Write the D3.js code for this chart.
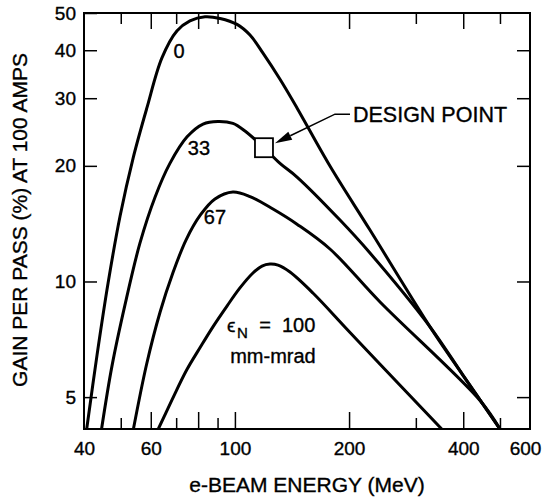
<!DOCTYPE html>
<html lang="en">
<head>
<meta charset="UTF-8">
<title>Gain per pass vs e-beam energy</title>
<script src="https://d3js.org/d3.v7.min.js"></script>
<style>
    body { margin: 0; background: #fff; }
    text { font-family: "Liberation Sans", Arial, Helvetica, sans-serif; fill: #000; stroke: #000; stroke-width: 0.35px; }
</style>
</head>
<body>
<svg width="544" height="498"></svg>
<script>
    // values: e-beam energy (MeV) and gain per pass (%)
    let energy0 = [40.66, 43.3, 46.3, 49.8, 53.9, 58.6, 64.2, 70.3, 76.1, 83.4, 91.4, 101.3, 109.6, 118.6, 131.5, 145.8, 178.1, 227.1, 327, 400, 500]
    let gain0   = [4.13, 6.44, 9.91, 14.81, 20.96, 28.3, 38.2, 44.9, 47.7, 48.9, 48.4, 46.7, 43.8, 39.3, 33.6, 28.3, 19.98, 13.61, 7.62, 5.69, 4.13]

    let energy33 = [44.5, 47.4, 51.3, 56.2, 61.6, 67.4, 74.8, 82.4, 90.2, 98.8, 106.3, 119.3, 131.5, 145.8, 189.3, 227.1, 327, 400, 500]
    let gain33   = [4.13, 6.02, 8.69, 12.6, 16.6, 20.3, 23.8, 25.7, 26.1, 25.8, 24.65, 22.3, 20.3, 18.7, 14.45, 11.86, 7.62, 5.69, 4.13]

    let energy67 = [54.0, 58.5, 63.5, 68.6, 74.3, 81.1, 88.6, 98.8, 109.6, 126.0, 145.8, 178.1, 241.4, 442.9, 500]
    let gain67   = [4.13, 6.09, 8.33, 10.52, 12.82, 14.9, 16.4, 17.1, 16.64, 15.44, 14.1, 12.15, 8.84, 4.9, 4.13]

    let energy100 = [62.8, 68.2, 74.6, 81.1, 87.5, 95.3, 103.1, 110.9, 117.9, 123.7, 129.9, 139.7, 160.6, 197.2, 241.4, 351]
    let gain100   = [4.13, 4.91, 5.88, 6.75, 7.62, 8.63, 9.62, 10.46, 10.97, 11.1, 11.03, 10.58, 9.33, 7.52, 6.09, 4.13]

    let designPoint = [119.3, 22.3]

    let xLongTicks = [60, 80, 100, 200, 400]
    let xShortTicks = [50, 70, 90, 300, 500]
    let xTickLabels = [40, 60, 100, 200, 400, 600]
    let yTickLabels = [5, 10, 20, 30, 40, 50]

    // curve labels placed in data coordinates
    let curveLabels = [
        {text: "0", e: 71.2, g: 39.8},
        {text: "33", e: 80.4, g: 22.3},
        {text: "67", e: 88.6, g: 14.7}
    ]

    let svg = d3.select("svg")
    let plotLeft = 84, plotRight = 530, plotTop = 13, plotBottom = 429

    let x = d3.scaleLog().domain([40, 600]).range([plotLeft, plotRight])
    let y = d3.scaleLog().domain([4.13, 50]).range([plotBottom, plotTop])

    svg.append("clipPath").attr("id", "plot")
        .append("rect")
        .attr("x", plotLeft).attr("y", plotTop)
        .attr("width", plotRight - plotLeft).attr("height", plotBottom - plotTop)

    function addAxis(axis, transform, fontSize) {
        let g = svg.append("g")
            .attr("transform", transform)
            .call(axis)
        g.select(".domain").remove()
        g.selectAll(".tick line").attr("stroke", "#000").attr("stroke-width", 1.5)
        g.selectAll("text")
            .attr("font-family", "Liberation Sans, Arial, sans-serif")
            .attr("font-size", fontSize)
            .attr("fill", "#000")
        return g
    }

    // bottom and top ticks (inward)
    addAxis(d3.axisBottom(x).tickValues(xLongTicks).tickSize(-17).tickFormat(""), `translate(0,${plotBottom})`, 19)
    addAxis(d3.axisBottom(x).tickValues(xShortTicks).tickSize(-11).tickFormat(""), `translate(0,${plotBottom})`, 19)
    addAxis(d3.axisTop(x).tickValues(xLongTicks).tickSize(-16).tickFormat(""), `translate(0,${plotTop})`, 19)
    addAxis(d3.axisTop(x).tickValues(xShortTicks).tickSize(-11).tickFormat(""), `translate(0,${plotTop})`, 19)
    let xLabels = addAxis(d3.axisBottom(x).tickValues(xTickLabels).tickSize(0).tickPadding(13).tickFormat(d3.format("d")), `translate(0,${plotBottom})`, 19)
    xLabels.selectAll("text").filter(d => d === 600).attr("dx", -5)

    // left and right ticks
    addAxis(d3.axisLeft(y).tickValues(yTickLabels).tickSize(-13).tickPadding(8).tickFormat(d3.format("d")), `translate(${plotLeft},0)`, 19)
    addAxis(d3.axisRight(y).tickValues(yTickLabels.slice(0, 5)).tickSize(-13).tickFormat(""), `translate(${plotRight},0)`, 19)

    // frame
    svg.append("rect")
        .attr("x", plotLeft).attr("y", plotTop)
        .attr("width", plotRight - plotLeft).attr("height", plotBottom - plotTop)
        .attr("fill", "none")
        .attr("stroke", "#000")
        .attr("stroke-width", 2)

    let line = d3.line()
        .x(d => x(d[0]))
        .y(d => y(d[1]))
        .curve(d3.curveCatmullRom.alpha(0.5))

    let curves = [
        d3.zip(energy0, gain0),
        d3.zip(energy33, gain33),
        d3.zip(energy67, gain67),
        d3.zip(energy100, gain100)
    ]

    svg.append("g")
        .attr("clip-path", "url(#plot)")
        .selectAll("path")
        .data(curves)
        .enter()
        .append("path")
        .attr("d", line)
        .attr("fill", "none")
        .attr("stroke", "#000")
        .attr("stroke-width", 3)
        .attr("stroke-linejoin", "round")

    svg.selectAll(".curve-label")
        .data(curveLabels)
        .enter()
        .append("text")
        .attr("class", "curve-label")
        .attr("x", d => x(d.e))
        .attr("y", d => y(d.g))
        .attr("dy", "0.36em")
        .attr("text-anchor", "middle")
        .attr("font-size", 20)
        .text(d => d.text)

    // emittance label for the lowest curve
    let lx = x(126), ly = y(7.39)
    svg.append("text").attr("x", lx - 46).attr("y", ly).attr("font-size", 19)
        .attr("font-family", "DejaVu Sans, sans-serif").text("ϵ")
    svg.append("text").attr("x", lx - 36).attr("y", ly + 6).attr("font-size", 15).text("N")
    svg.append("text").attr("x", lx - 8).attr("y", ly).attr("text-anchor", "middle").attr("font-size", 20).text("=")
    svg.append("text").attr("x", lx + 9).attr("y", ly).attr("font-size", 20).text("100")
    svg.append("text").attr("x", lx).attr("y", ly + 31).attr("text-anchor", "middle").attr("font-size", 20).text("mm-mrad")

    // design point box with arrow
    let px = x(designPoint[0]), py = y(designPoint[1])
    svg.append("rect")
        .attr("x", px - 9).attr("y", py - 9.5)
        .attr("width", 18).attr("height", 19)
        .attr("fill", "#fff")
        .attr("stroke", "#000")
        .attr("stroke-width", 1.8)

    let tip = [px + 11, py - 4.5]
    let elbow = [px + 71, py - 33.5]
    let dx = tip[0] - elbow[0], dy = tip[1] - elbow[1]
    let len = Math.sqrt(dx * dx + dy * dy)
    let ux = dx / len, uy = dy / len
    let base = [tip[0] - 17 * ux, tip[1] - 17 * uy]
    svg.append("path")
        .attr("d", `M${px + 86},${elbow[1]}L${elbow[0]},${elbow[1]}L${base[0]},${base[1]}`)
        .attr("fill", "none")
        .attr("stroke", "#000")
        .attr("stroke-width", 1.5)
    svg.append("path")
        .attr("d", `M${tip[0]},${tip[1]}L${base[0] - 4.5 * uy},${base[1] + 4.5 * ux}L${base[0] + 4.5 * uy},${base[1] - 4.5 * ux}Z`)
        .attr("fill", "#000")
    svg.append("text")
        .attr("x", px + 89).attr("y", py - 25.5)
        .attr("font-size", 21.5)
        .text("DESIGN POINT")

    // axis titles
    svg.append("text")
        .attr("x", (plotLeft + plotRight) / 2).attr("y", 492)
        .attr("text-anchor", "middle")
        .attr("font-size", 21)
        .text("e-BEAM ENERGY (MeV)")

    svg.append("text")
        .attr("transform", "translate(27,220) rotate(-90)")
        .attr("text-anchor", "middle")
        .attr("font-size", 21)
        .text("GAIN PER PASS (%) AT 100 AMPS")
</script>
</body>
</html>
